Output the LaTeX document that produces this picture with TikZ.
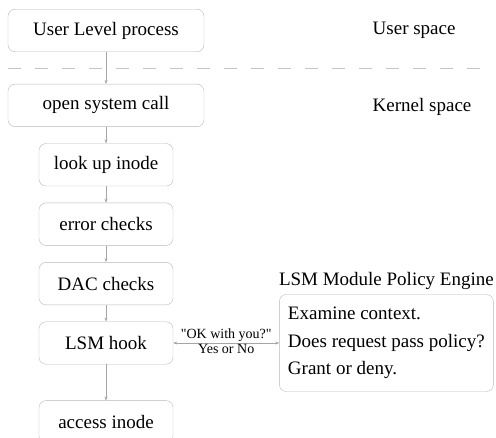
\documentclass[tikz,border=0pt]{standalone}
\usepackage{fontspec}
\setmainfont{Liberation Serif}[Ligatures=TeXOff]
\usetikzlibrary{positioning,arrows.meta}

\begin{document}
\begin{tikzpicture}[
  x=1pt, y=-1pt,
  >={Stealth[length=4pt,width=3pt]},
  node distance=16.5pt,
  box/.style={
    rectangle, draw=gray!55, rounded corners=7pt, align=center,
    minimum height=42.5pt, inner sep=2pt, font=\fontsize{19}{23}\selectfont
  },
  wide/.style={box, minimum width=196pt},
  narrow/.style={box, minimum width=134pt},
  lbl/.style={font=\fontsize{19}{23}\selectfont},
  small/.style={font=\fontsize{14}{16}\selectfont, inner sep=1.5pt, text=black},
  arrow/.style={->, gray!70, thin},
  sep/.style={gray!45, dash pattern=on 13pt off 14pt}
]
\clip (0,0) rectangle (496,438);

\node (usr) [wide] at (106,30.5) {User Level process};
\node (open) [wide, below=32pt of usr] {open system call};
\node (look) [narrow, below=of open] {look up inode};
\node (err) [narrow, below=of look] {error checks};
\node (dac) [narrow, below=of err] {DAC checks};
\node (lsm) [narrow, below=of dac] {LSM hook};
\node (acc) [narrow, below=36pt of lsm] {access inode};

\node (us) [lbl, anchor=west] at ([xshift=165pt]usr.east) {User space};
\node (ks) [lbl, anchor=west] at ([xshift=165pt,yshift=-2pt]open.east) {Kernel space};

% boundary between user and kernel space
\coordinate (dl) at (8,68);
\coordinate (dr) at (480,68);
\draw[sep] (dl) -- (dr);

\node (pol) [box, right=106pt of lsm, align=left, minimum width=214pt,
  minimum height=97pt, font=\fontsize{19}{27.5}\selectfont]
  {Examine context.\\Does request pass policy?\\Grant or deny.};
\node (eng) [lbl, above=1.5pt of pol] {LSM Module Policy Engine};

\draw[arrow] (usr) -- (open);
\draw[arrow] (open) -- (look);
\draw[arrow] (look) -- (err);
\draw[arrow] (err) -- (dac);
\draw[arrow] (dac) -- (lsm);
\draw[arrow] (lsm) -- (acc);
\draw[arrow, <->] (lsm) -- node[small, above] {"OK with you?"}
  node[small, below] {Yes or No} (pol);
\end{tikzpicture}
\end{document}
